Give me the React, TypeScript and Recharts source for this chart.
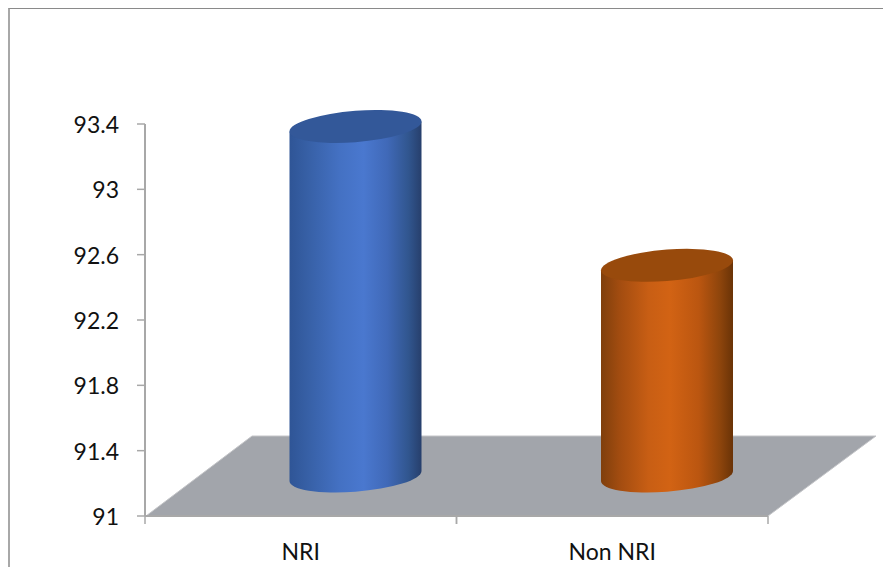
import React from "react";
import { BarChart, Bar, XAxis, YAxis, ReferenceArea } from "recharts";

const categories = ["NRI", "Non NRI"];
const values = [93.14, 92.29];
const valueTicks = [91, 91.4, 91.8, 92.2, 92.6, 93, 93.4];
const tickLabels = ["91", "91.4", "91.8", "92.2", "92.6", "93", "93.4"];

const FONT = "Lato, 'Open Sans', sans-serif";
const AXIS_COLOR = "#a8a8a8";
const DEPTH_X = 54.5;
const DEPTH_Y = 40;
const ELLIPSE_RY = 15.7;
const ELLIPSE_TILT = 5;
const BAND = 311.5;

const palettes = [
  {
    id: "cylBlue",
    cap: "#335899",
    stops: [
      ["0%", "#2f5596"],
      ["14%", "#3760a6"],
      ["38%", "#4471c3"],
      ["56%", "#4a78cf"],
      ["74%", "#4069b8"],
      ["90%", "#31568f"],
      ["100%", "#273f6c"],
    ],
  },
  {
    id: "cylOrange",
    cap: "#984a0c",
    stops: [
      ["0%", "#7f3f0c"],
      ["14%", "#a24c10"],
      ["36%", "#c85e14"],
      ["52%", "#d26314"],
      ["74%", "#bb5610"],
      ["90%", "#8e450c"],
      ["100%", "#6a3307"],
    ],
  },
];

const rows = categories.map((name, i) => ({ name, value: values[i] }));

// Cylinder standing mid-way along the floor, pushed back by half the box depth.
function Cylinder(props: any) {
  const { x, y, width, height, index } = props;
  const p = palettes[index];
  const rx = width / 2;
  const cx = x + rx + DEPTH_X;
  const top = y - DEPTH_Y;
  const h = height;
  const shear = -ELLIPSE_TILT / rx;
  return (
    <g transform={`matrix(1 ${shear} 0 1 ${cx} ${top})`}>
      <path
        d={`M ${-rx} 0 L ${-rx} ${h} A ${rx} ${ELLIPSE_RY} 0 0 0 ${rx} ${h} L ${rx} 0 Z`}
        fill={`url(#${p.id})`}
      />
      <ellipse cx={0} cy={0} rx={rx} ry={ELLIPSE_RY} fill={p.cap} />
    </g>
  );
}

// Parallelogram floor running from the front axis to the back wall.
function Floor(props: any) {
  const { x, y, width, height } = props;
  const b = y + height;
  const points = [
    [x + 1, b],
    [x + width, b],
    [x + width + 108, y],
    [x + 107, y],
  ]
    .map((pt) => pt.join(","))
    .join(" ");
  return <polygon points={points} fill="#a2a5ab" stroke="#c4c5c8" strokeWidth={1} />;
}

// Category label centred in its band, with tick marks on the band edges.
function CategoryTick(props: any) {
  const { x, y, payload } = props;
  return (
    <g>
      <line x1={x - BAND / 2} x2={x - BAND / 2} y1={y - 8} y2={y} stroke={AXIS_COLOR} strokeWidth={1.5} />
      <line x1={x + BAND / 2} x2={x + BAND / 2} y1={y - 8} y2={y} stroke={AXIS_COLOR} strokeWidth={1.5} />
      <text x={x} y={y + 36} textAnchor="middle" fontFamily={FONT} fontSize={23} fill="#111">
        {payload.value}
      </text>
    </g>
  );
}

export default function App() {
  return (
    <div style={{ position: "absolute", left: 0, top: 0, width: 883, height: 567, background: "#fff", overflow: "hidden" }}>
      <div
        style={{
          position: "absolute",
          left: 8,
          top: 8,
          width: 875,
          height: 559,
          boxSizing: "border-box",
          borderTop: "1.5px solid #8a8a8a",
          borderLeft: "2px solid #a8a8a8",
        }}
      />
      <div style={{ position: "absolute", left: 0, top: 0 }}>
        <BarChart
          width={883}
          height={567}
          data={rows}
          margin={{ top: 124, right: 115, bottom: 0, left: 85 }}
          style={{ overflow: "visible" }}
        >
          <defs>
            {palettes.map((p) => (
              <linearGradient key={p.id} id={p.id} x1="0" y1="0" x2="1" y2="0">
                {p.stops.map(([offset, color]) => (
                  <stop key={offset} offset={offset} stopColor={color} />
                ))}
              </linearGradient>
            ))}
          </defs>
          <ReferenceArea
            y1={91}
            y2={91 + ((2 * DEPTH_Y) / 392) * 2.4}
            ifOverflow="visible"
            shape={Floor}
          />
          <XAxis
            dataKey="name"
            height={51}
            tickLine={false}
            axisLine={{ stroke: AXIS_COLOR, strokeWidth: 2 }}
            tick={CategoryTick}
            interval={0}
          />
          <YAxis
            width={60}
            domain={[91, 93.4]}
            ticks={valueTicks}
            tickFormatter={(v: number) => tickLabels[valueTicks.indexOf(v)]}
            axisLine={{ stroke: AXIS_COLOR, strokeWidth: 2 }}
            tickLine={{ stroke: AXIS_COLOR, strokeWidth: 1.5 }}
            tickSize={8}
            tickMargin={18}
            tick={{ fontFamily: FONT, fontSize: 23, fill: "#111", dy: 1 }}
          />
          <Bar dataKey="value" barSize={132} isAnimationActive={false} shape={Cylinder} />
        </BarChart>
      </div>
    </div>
  );
}
